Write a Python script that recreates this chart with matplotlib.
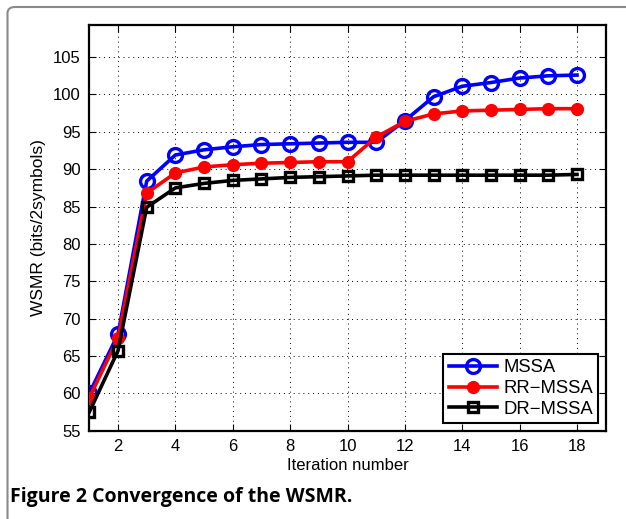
import matplotlib
matplotlib.use("Agg")
import matplotlib.pyplot as plt
from matplotlib.patches import FancyBboxPatch

iterations = list(range(1, 19))
mssa = [60.0, 67.9, 88.4, 91.9, 92.6, 93.0, 93.3, 93.4, 93.5, 93.6, 93.6, 96.5, 99.7, 101.1, 101.6, 102.2, 102.5, 102.6]
rr_mssa = [59.4, 67.4, 86.8, 89.5, 90.3, 90.6, 90.8, 90.9, 91.0, 91.0, 94.3, 96.4, 97.4, 97.8, 97.9, 98.0, 98.1, 98.1]
dr_mssa = [57.5, 65.7, 84.9, 87.5, 88.1, 88.5, 88.7, 88.9, 89.0, 89.1, 89.2, 89.2, 89.2, 89.2, 89.2, 89.2, 89.2, 89.3]
series_names = ["MSSA", "RR\u2212MSSA", "DR\u2212MSSA"]
caption = "Figure 2 Convergence of the WSMR."

plt.rcParams['font.family'] = ['Liberation Sans', 'DejaVu Sans']

W, H = 626, 519
fig = plt.figure(figsize=(W / 100, H / 100), dpi=100)

# page frame (gray rounded line)
frame = FancyBboxPatch((7.5 / W, -0.05), 1.2, 1 - 7 / H + 0.05,
                       boxstyle="round,pad=0,rounding_size=0.012",
                       transform=fig.transFigure, facecolor='none',
                       edgecolor='#8a8a8a', linewidth=1.5, clip_on=False)
fig.patches.append(frame)

left, right, top, bottom = 89.3, 605.7, 25, 430.7
ax = fig.add_axes([left / W, 1 - bottom / H, (right - left) / W, (bottom - top) / H])

ax.plot(iterations, mssa, color='#0000ff', lw=2.6, marker='o', ms=10,
        mfc='none', mec='#0000ff', mew=2.4, label=series_names[0], zorder=3)
ax.plot(iterations, rr_mssa, color='#ff0000', lw=2.6, marker='o', ms=8.5,
        mfc='#ff0000', mec='#ff0000', label=series_names[1], zorder=4)
ax.plot(iterations, dr_mssa, color='black', lw=2.6, marker='s', ms=7.5,
        mfc='none', mec='black', mew=2.4, label=series_names[2], zorder=5)

ax.set_xlim(1, 19)
ax.set_ylim(55, 109.3)
ax.set_xticks(range(2, 19, 2))
ax.set_yticks(range(55, 106, 5))
ax.grid(True, linestyle=(0, (1, 4)), color='black', linewidth=0.7)
ax.tick_params(direction='in', length=5, width=0.8, labelsize=12, top=True, right=True, pad=6)
for s in ax.spines.values():
    s.set_linewidth(1.6)

ax.set_xlabel("Iteration number", fontsize=12, labelpad=3)
ax.set_ylabel("WSMR (bits/2symbols)", fontsize=12.5, labelpad=5)

leg = ax.legend(loc='lower right', fontsize=13.3, numpoints=1, fancybox=False,
                framealpha=1, edgecolor='black', borderaxespad=0.4,
                handlelength=2.6, handletextpad=0.35, labelspacing=0.2,
                borderpad=0.3)
leg.get_frame().set_linewidth(1.5)

fig.text(10 / W, 1 - 497 / H, caption, fontsize=14, fontweight='bold',
         family=['Open Sans', 'DejaVu Sans'], va='center', ha='left')

fig.savefig("out.png", dpi=100)
